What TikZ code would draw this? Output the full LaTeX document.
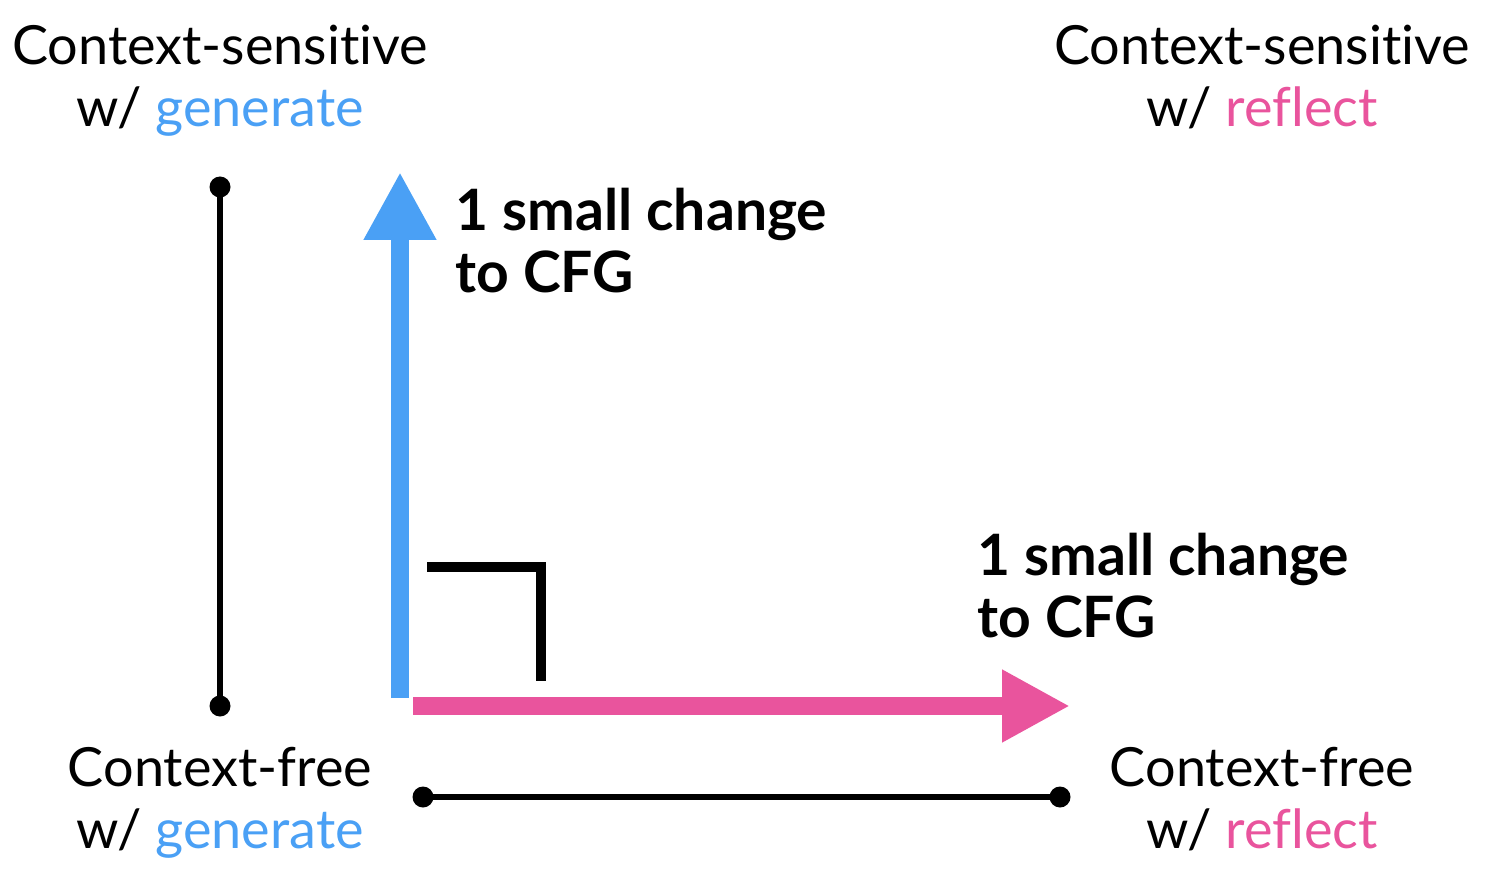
\documentclass[tikz,border=0pt]{standalone}
\usepackage{fontspec}
\setmainfont{Lato}[Ligatures=NoCommon]
\usepackage{xcolor}
\usetikzlibrary{arrows.meta, positioning}
\definecolor{genblue}{HTML}{4AA0F5}
\definecolor{refpink}{HTML}{E9549D}

\begin{document}
\begin{tikzpicture}[x=1pt, y=-1pt, >=Stealth,
    lbl/.style={align=center, anchor=base, font=\fontsize{54}{62}\selectfont},
    note/.style={align=left, anchor=base west, font=\fontsize{57}{62}\selectfont\bfseries},
    dot/.style={circle, fill=black, inner sep=0pt, minimum size=21pt},
    bar/.style={line width=5.5pt},
    bigarrow/.style={line width=18pt, -{Triangle[length=68pt, width=68pt]}}]
  \useasboundingbox (0,0) rectangle (1496,874);
  % corner labels (anchored on the baseline of their last line)
  \node[lbl] (csgen) at (220, 127)  {Context-sensitive\\w/ \textcolor{genblue}{generate}};
  \node[lbl] (csref) at (1262, 127) {Context-sensitive\\w/ \textcolor{refpink}{reflect}};
  \node[lbl] (cfgen) at (220, 848) {Context-free\\w/ \textcolor{genblue}{generate}};
  \node[lbl] (cfref) at (1262, 848) {Context-free\\w/ \textcolor{refpink}{reflect}};
  % end points of the black bars
  \node[dot] (vtop) at (220, 187) {};
  \node[dot] (vbot) at (220, 706) {};
  \node[dot] (hleft) at (423, 797) {};
  \node[dot] (hright) at (1060, 797) {};
  \draw[bar] (vtop.center) -- (vbot.center);
  \draw[bar] (hleft.center) -- (hright.center);
  % the two changes
  \coordinate (blo) at (400, 698);
  \coordinate (bhi) at (400, 172);
  \coordinate (plo) at (413, 706);
  \coordinate (phi) at (1070, 706);
  \draw[bigarrow, genblue] (blo) -- (bhi);
  \draw[bigarrow, refpink] (plo) -- (phi);
  % right-angle mark
  \coordinate (ra1) at (427, 567);
  \coordinate (ra2) at (541, 567);
  \coordinate (ra3) at (541, 681);
  \draw[line width=10pt] (ra1) -- (ra2) -- (ra3);
  % notes
  \node[note] (upnote) at (452, 293) {1 small change\\to CFG};
  \node[note] (rightnote) at (974, 637) {1 small change\\to CFG};
\end{tikzpicture}
\end{document}
